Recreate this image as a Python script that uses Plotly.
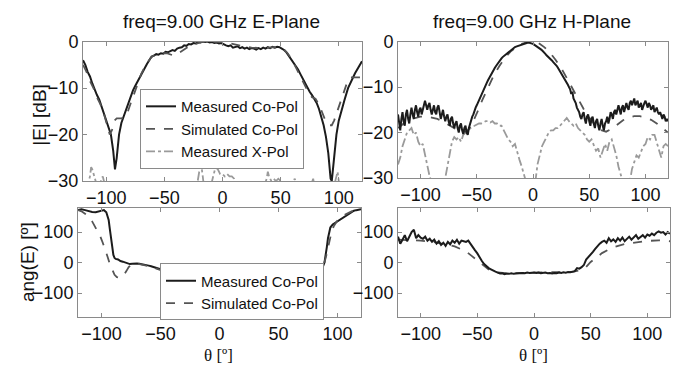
import plotly.graph_objects as go

W, H = 690, 365

# ---------------- E-plane |E| [dB] ----------------
e_meas_th = [-120,-118,-116,-114,-112,-110,-108,-106,-104,-102,-100,-98,-96,-94,-92.5,-91,-89,-87,-85,-83,-81,-79,-77,-75,-73,-71,-69,-67,-65,-63,-61,-59,-57,-55,-53,-51,-49,-47,-45,-43,-41,-39,-37,-35,-33,-31,-29,-27,-25,-23,-21,-19,-17,-15,-13,-11,-9,-7,-5,-3,-1,1,3,5,7,9,11,13,15,17,19,21,23,25,27,29,31,33,35,37,39,41,43,45,47,49,51,53,55,57,59,61,63,65,67,69,71,73,75,77,79,81,83,85,87,89,91,93,94,96,98,100,102,104,105,108,111,114,117,120]
e_meas_db = [-4,-5,-6.5,-7.5,-9,-10.5,-11.5,-12.5,-14,-15.5,-16.5,-18,-20,-23.5,-27.5,-25,-20,-17.5,-16,-14.5,-13,-12,-10.5,-9.5,-8.5,-7.5,-6.5,-5.5,-4.8,-4,-3.2,-3,-2.7,-2.8,-2.5,-2.6,-2.2,-2.3,-2,-1.8,-2,-1.5,-1.3,-1.2,-0.8,-0.9,-0.5,-0.6,-0.3,-0.4,-0.1,-0.2,0,-0.1,0,-0.2,-0.1,-0.3,-0.2,-0.4,-0.3,-0.6,-0.8,-1,-0.8,-1.3,-1.2,-1,-1.4,-1.2,-1.5,-1.3,-1.6,-1.4,-1.5,-1.7,-1.4,-1.6,-1.3,-1.5,-1.2,-1.4,-1.1,-1.3,-1.1,-1.2,-1.5,-1.8,-2.3,-3,-3.8,-4.5,-5.3,-6,-7,-8,-9,-10,-10.8,-11.5,-12.3,-13.2,-14.5,-16,-18,-20.5,-24,-29.5,-30,-25,-20,-17,-15,-13.5,-12.5,-10,-8.3,-6.8,-5.5,-4.2]

e_sim_th = [-120,-117,-114,-111,-108,-105,-102,-99,-97,-95,-93,-91,-87,-84,-82,-80,-78,-76,-74,-72,-70,-68,-66,-64,-62,-60,-57,-54,-51,-48,-45,-42,-39,-36,-33,-30,-27,-24,-21,-18,-15,-10,-5,0,5,10,15,20,25,30,35,40,45,50,53,56,59,62,65,68,71,74,77,80,83,86,89,92,94,96,98,100,102,104,106,108,110,115,120]
e_sim_db = [-5,-6.5,-8.5,-10,-12,-13.5,-15.5,-18,-20,-19,-17,-16.5,-16.5,-16.3,-15.5,-14,-12.5,-11,-9.5,-8,-7,-6,-5,-4.3,-3.6,-3.1,-2.8,-2.6,-2.5,-2.5,-2.8,-3,-2.7,-2.2,-1.6,-1.2,-0.8,-0.5,-0.3,-0.1,0,0,0,-0.1,-0.3,-0.6,-0.9,-1.1,-1.3,-1.4,-1.4,-1.3,-1.2,-1.3,-1.7,-2.5,-3.6,-5,-6.5,-8,-9.5,-11,-12,-12.3,-13.5,-15.5,-17.3,-18,-18,-17,-15.5,-14,-12.5,-11,-9.5,-8.2,-7.7,-7.7,-7.7]

e_xpol_th = [-120,-116,-114,-113,-112,-111,-110,-109,-108,-106,-104,-103,-102,-101,-100,-22,-20,-19,-18,-17,-16,-10,-8,-6,-4,-2,0,2,4,6,8,10,12,36,38,39,40,42,44,46,48,50,52,60,62,63,64,76,78,79,80,96,98,99,100,102,120]
e_xpol_db = [-31,-31,-29,-27,-27.5,-28.5,-29,-30,-31,-31,-29.5,-29,-30,-31,-31,-31,-28,-25.5,-27,-29,-31,-31,-29,-27,-27.5,-28.5,-28.5,-29,-28.5,-29,-29,-29.5,-31,-31,-29.5,-28,-29,-30,-29.5,-30,-29.5,-30,-31,-31,-29.5,-30,-31,-31,-29.5,-31,-31,-31,-29,-28,-30,-31,-31]

# ---------------- H-plane |E| [dB] ----------------
h_meas_th = list(range(-120, 121))
h_meas_db = [-16,-18,-19.5,-17,-15.5,-17.5,-18.5,-16,-15,-17,-18,-16,-14.5,-16,-17,-15,-14,-15.5,-16.5,-15,-14.5,-16,-15,-13.5,-13,-14,-15,-14,-13.5,-15,-16,-15,-14,-15.5,-16,-14.5,-14,-15.5,-17,-16,-15,-16.5,-17.5,-16.5,-16,-17.5,-18.5,-17,-16.5,-18,-19,-18,-17.5,-19,-20,-18.5,-18,-19.5,-20.3,-19,-18.5,-20,-20.5,-19,-18,-17.5,-16.5,-16,-15,-14.5,-14,-13.4,-12.8,-12.2,-11.7,-11.1,-10.5,-10,-9.5,-9,-8.5,-8,-7.5,-7,-6.6,-6.2,-5.8,-5.4,-5,-4.6,-4.3,-4,-3.7,-3.4,-3.2,-2.9,-2.7,-2.4,-2.2,-2,-1.8,-1.6,-1.5,-1.3,-1.2,-1.1,-1,-0.9,-0.8,-0.7,-0.6,-0.5,-0.4,-0.35,-0.3,-0.25,-0.2,-0.25,-0.3,-0.4,-0.5,-0.65,-0.8,-0.95,-1.1,-1.3,-1.5,-1.7,-1.9,-2.1,-2.4,-2.7,-3,-3.2,-3.5,-3.7,-4,-4.2,-4.5,-4.7,-5,-5.3,-5.7,-6.1,-6.5,-6.9,-7.3,-7.7,-8.2,-8.6,-9,-9.5,-10,-10.5,-11.5,-11,-12.5,-13,-13.5,-14.5,-15,-15.5,-16.5,-17,-16,-15.5,-17,-18,-16.5,-16,-17.5,-18.5,-17,-16.5,-18,-19,-17.5,-17,-18.5,-19.5,-18,-17,-18.5,-19.5,-18,-17.5,-16.5,-18,-17,-15.5,-16,-17,-15.5,-15,-16,-15,-14,-15,-16,-14.5,-14,-15.5,-14,-13.5,-14.5,-15,-13.5,-13,-14,-13,-12.5,-14,-13.5,-13,-14.5,-14,-13.5,-15,-14,-13.5,-13,-14,-14.5,-13.5,-14,-15,-14.5,-14,-15.5,-15,-14.5,-15.5,-16,-15.5,-16.5,-17,-16,-16.5,-17.5,-17,-17.5]

h_sim_th = [-120,-115,-110,-105,-100,-95,-90,-85,-80,-75,-70,-65,-62,-58,-55,-52,-50,-45,-40,-35,-30,-25,-20,-15,-10,-5,0,5,10,15,20,25,30,35,40,45,50,55,60,65,70,75,80,85,90,95,100,105,110,115,120]
h_sim_db = [-19,-18,-17.3,-16.8,-16.5,-16.5,-16.7,-17,-17.6,-18.3,-19.1,-19.7,-19.9,-19.5,-18.5,-17,-15.8,-12.8,-10,-7.5,-5.4,-3.6,-2.2,-1.2,-0.5,-0.1,0,-0.3,-1.2,-2.4,-4,-5.8,-8,-10.3,-12.6,-14.8,-16.7,-18.3,-19.4,-19.8,-19.2,-18.2,-17.3,-16.7,-16.4,-16.4,-16.7,-17.2,-18,-19,-20]

h_xpol_th = [-120,-118,-116,-114,-112,-110,-108,-106,-104,-102,-100,-98,-96,-94,-92,-90,-80,-78,-76,-74,-72,-70,-68,-66,-64,-62,-60,-58,-56,-54,-52,-50,-48,-46,-44,-42,-40,-38,-36,-34,-32,-30,-28,-26,-24,-22,-20,-18,-16,-14,-12,-10,-8,-6,2,4,6,8,10,12,14,16,18,20,22,24,26,28,30,32,34,36,38,40,42,44,46,48,50,52,54,56,58,60,62,64,66,68,70,72,74,76,78,80,86,88,90,92,94,96,98,100,102,104,106,108,110,112,114,116,118,120]
h_xpol_db = [-27,-25.5,-23,-21.5,-20,-19.5,-19,-20.5,-20,-22,-23,-22.5,-25,-27,-29.5,-31,-31,-30,-27,-24,-22,-21,-21.5,-21,-22,-20.5,-20,-19.5,-19,-18.7,-18.5,-18.2,-18,-18,-17.8,-17.5,-17.5,-17.8,-17.5,-18,-18,-18.5,-18.5,-19.5,-20.5,-21.5,-22,-23,-22.5,-24.5,-26,-27.5,-29,-31,-31,-27,-25,-23,-22,-21,-20,-19.5,-19.5,-19,-19,-18.5,-18,-17.5,-16.8,-17.5,-18,-18.5,-18,-19,-19.5,-20,-20.5,-21.5,-22,-21.5,-23,-24,-23.5,-25.5,-24,-22.5,-24,-22,-21.5,-23,-25,-27.5,-29.5,-31,-31,-28,-26.5,-25,-25.5,-24,-23,-22.5,-21,-21.5,-20.5,-20.5,-22,-24,-25.5,-23,-22.5,-23]

# ---------------- E-plane phase ----------------
pe_meas_th = [-120,-117,-114,-111,-108,-105,-102,-100,-98,-96,-95,-94,-93,-92,-91,-90,-89,-88,-86,-84,-82,-80,-78,-76,-74,-72,-70,-68,-66,-64,-62,-60,-58,-56,-54,-52,-50,-48,-46,-44,-42,-40,-38,-36,-34,-32,-30,-28,-26,-24,-22,-20,-18,-16,-14,-12,-10,-8,-6,-4,-2,0,2,4,6,8,10,12,14,16,18,20,22,24,26,28,30,32,34,36,38,40,42,44,46,48,50,52,54,56,58,60,62,64,66,68,70,72,74,76,78,80,82,84,86,88,89,90,91,92,93,94,96,98,100,102,104,106,108,110,112,114,116,118,120]
pe_meas_deg = [172,175,172,168,166,165,168,172,172,165,155,140,110,75,45,25,15,12,10,5,3,0,-3,-5,-4,-3,-3,-4,-5,-6,-8,-10,-12,-15,-18,-20,-22,-24,-26,-27,-28,-28,-27,-26,-25,-25,-26,-25,-27,-27,-28,-29,-30,-31,-32,-33,-34,-35,-36,-36,-37,-37,-38,-39,-40,-42,-40,-40,-39,-38,-38,-38,-37,-37,-38,-37,-36,-36,-35,-34,-33,-32,-31,-30,-28,-26,-24,-22,-20,-18,-15,-13,-11,-9,-8,-9,-11,-14,-17,-19,-21,-20,-20,-22,-18,-10,0,20,50,80,100,115,125,130,135,140,145,150,155,160,165,170,172,174,175]

pe_sim_th = [-120,-117,-114,-111,-108,-105,-103,-101,-99,-97,-95,-93,-91,-89,-87,-85,-83,-81,-79,-77,-75,-73,-71,-69,-66,-63,-60,-57,-54,-51,-48,-45,-42,-39,-36,-33,-30,-27,-24,-21,-18,-15,-12,-9,-6,-3,0,5,10,15,20,25,30,35,40,45,50,55,60,63,66,69,72,75,78,81,83,85,87,89,91,93,95,97,100,104,108,112,116,120]
pe_sim_deg = [172,168,160,150,135,115,100,85,65,45,20,-5,-25,-40,-48,-50,-48,-40,-28,-15,-7,-3,-3,-4,-6,-9,-12,-16,-20,-24,-27,-29,-30,-29,-28,-28,-28,-29,-30,-31,-33,-35,-37,-38,-39,-40,-40,-40,-40,-40,-40,-40,-40,-39,-37,-34,-30,-25,-19,-15,-14,-17,-24,-32,-39,-43,-42,-35,-20,0,30,65,100,120,138,152,160,168,173,178]

# ---------------- H-plane phase ----------------
ph_meas_th = list(range(-120, 121, 2))
ph_meas_deg = [85,62,75,90,70,85,100,108,80,90,82,78,85,72,78,68,75,62,70,58,65,55,68,60,72,65,75,62,72,70,68,72,60,50,40,30,15,5,-5,-12,-18,-22,-27,-30,-33,-36,-35,-38,-36,-37,-35,-37,-36,-35,-35,-34,-35,-33,-34,-33,-33,-34,-33,-35,-34,-33,-35,-34,-36,-34,-35,-33,-34,-32,-33,-31,-32,-30,-28,-18,-20,-15,-8,10,18,25,35,45,55,62,68,72,65,80,70,76,68,80,72,82,70,78,85,75,82,90,78,85,90,82,92,88,95,90,98,102,98,100,92,100,95]

ph_sim_th = [-120,-110,-100,-90,-80,-75,-70,-65,-60,-55,-50,-45,-40,-35,-30,-25,-20,-10,0,10,20,30,35,40,45,50,55,60,65,70,80,90,100,110,120]
ph_sim_deg = [75,74,72,68,62,58,53,46,37,22,6,-10,-23,-31,-34,-35,-35,-34,-33,-33,-33,-32,-30,-26,-18,2,18,31,41,50,61,67,71,73,70]

X_TICKS = [-100, -50, 0, 50, 100]
DB_TICKS = [0, -10, -20, -30]
DEG_TICKS = [-100, 0, 100]

C_MEAS = "#1c1c1c"
C_SIM = "#555555"
C_X = "#9a9a9a"

fig = go.Figure()

def add(x, y, xa, ya, name, style, legend=None, show=False):
    if style == "meas":
        line = dict(color=C_MEAS, width=2)
    elif style == "sim":
        line = dict(color=C_SIM, width=1.8, dash="dash")
    else:
        line = dict(color=C_X, width=1.8, dash="dashdot")
    kw = dict(x=x, y=y, mode="lines", name=name, line=line, xaxis=xa, yaxis=ya,
              showlegend=show)
    if legend:
        kw["legend"] = legend
    fig.add_trace(go.Scatter(**kw))

add(e_meas_th, e_meas_db, "x", "y", "Measured Co-Pol", "meas", "legend", True)
add(e_sim_th, e_sim_db, "x", "y", "Simulated Co-Pol", "sim", "legend", True)
add(e_xpol_th, e_xpol_db, "x", "y", "Measured X-Pol", "x", "legend", True)

add(h_xpol_th, h_xpol_db, "x2", "y2", "Measured X-Pol", "x")
add(h_sim_th, h_sim_db, "x2", "y2", "Simulated Co-Pol", "sim")
add(h_meas_th, h_meas_db, "x2", "y2", "Measured Co-Pol", "meas")

add(pe_meas_th, pe_meas_deg, "x3", "y3", "Measured Co-Pol", "meas", "legend2", True)
add(pe_sim_th, pe_sim_deg, "x3", "y3", "Simulated Co-Pol", "sim", "legend2", True)

add(ph_sim_th, ph_sim_deg, "x4", "y4", "Simulated Co-Pol", "sim")
add(ph_meas_th, ph_meas_deg, "x4", "y4", "Measured Co-Pol", "meas")

FONT = "Liberation Sans, Arial, sans-serif"
FRAME = "#8a8a8a"

# observed rendering: vertical paper space maps onto image rows 8..357
TOP_OFF, EFF_H = 8.0, 349.0

def X(px_):
    return px_ / W

def Y(py_):
    return 1 - (py_ - TOP_OFF) / EFF_H

def xaxis(a, b, anchor):
    return dict(domain=[X(a), X(b)], anchor=anchor, range=[-120, 120], tickvals=X_TICKS,
                ticks="inside", ticklen=4, tickcolor=FRAME, mirror="ticks",
                showline=True, linecolor=FRAME, linewidth=1, showgrid=False,
                zeroline=False, tickfont=dict(size=18, color="#111"))

def yaxis(top, bottom, anchor, rng, tv):
    return dict(domain=[Y(bottom), Y(top)], anchor=anchor, range=rng, tickvals=tv,
                ticks="inside", ticklen=4, tickcolor=FRAME, mirror="ticks",
                showline=True, linecolor=FRAME, linewidth=1, showgrid=False,
                zeroline=False, tickfont=dict(size=18, color="#111"))

fig.update_layout(
    width=W, height=H,
    margin=dict(l=0, r=0, t=0, b=0),
    paper_bgcolor="white", plot_bgcolor="white",
    font=dict(family=FONT, size=18, color="#111"),
    xaxis=xaxis(83, 362, "y"),
    yaxis=yaxis(40, 181, "x", [-30, 0], DB_TICKS),
    xaxis2=xaxis(398, 668, "y2"),
    yaxis2=yaxis(40, 178, "x2", [-30, 0], DB_TICKS),
    xaxis3=xaxis(78, 361, "y3"),
    yaxis3=yaxis(208, 319, "x3", [-180, 180], DEG_TICKS),
    xaxis4=xaxis(398, 670, "y4"),
    yaxis4=yaxis(208, 319, "x4", [-180, 180], DEG_TICKS),
    legend=dict(x=X(140), y=Y(88), xanchor="left", yanchor="top",
                bgcolor="white", bordercolor=FRAME, borderwidth=1,
                font=dict(size=15, family=FONT, color="#111"),
                tracegroupgap=0, itemwidth=30),
    legend2=dict(x=X(160), y=Y(322), xanchor="left", yanchor="bottom",
                 bgcolor="white", bordercolor=FRAME, borderwidth=1,
                 font=dict(size=15, family=FONT, color="#111"),
                 tracegroupgap=0, itemwidth=30),
    showlegend=True,
)

ann = [
    dict(text="freq=9.00 GHz E-Plane", x=X(222), y=Y(20), font=dict(size=19)),
    dict(text="freq=9.00 GHz H-Plane", x=X(532), y=Y(20), font=dict(size=19)),
    dict(text="|E| [dB]", x=X(40), y=Y(114), textangle=-90, font=dict(size=19)),
    dict(text="ang(E) [º]", x=X(27), y=Y(263), textangle=-90, font=dict(size=19)),
    dict(text="θ [º]", x=X(218), y=Y(357),
         font=dict(size=17, family="Liberation Serif, Times New Roman, serif")),
    dict(text="θ [º]", x=X(533), y=Y(357),
         font=dict(size=17, family="Liberation Serif, Times New Roman, serif")),
]
for a in ann:
    a.update(xref="paper", yref="paper", showarrow=False, xanchor="center",
             yanchor="middle", borderpad=0)
    a["font"].setdefault("family", FONT)
    a["font"]["color"] = "#111"
fig.update_layout(annotations=ann)

fig.write_html("out.html")
